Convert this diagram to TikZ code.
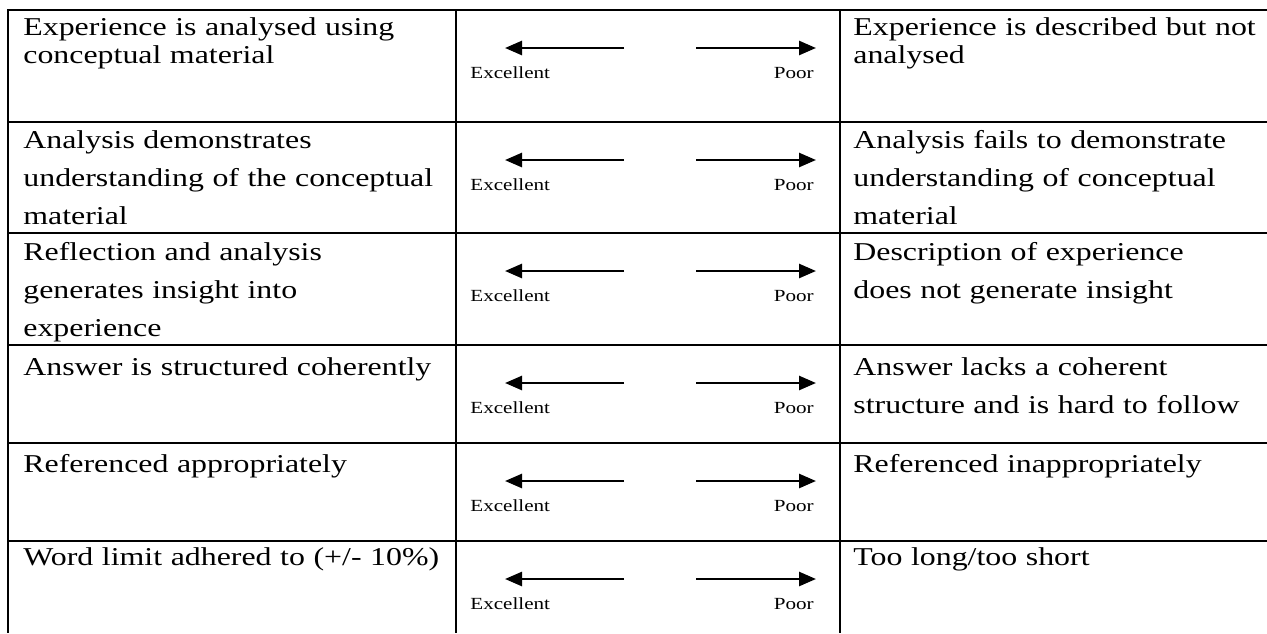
\documentclass[tikz,border=0pt]{standalone}
\usepackage{fontspec}
\setmainfont{Liberation Serif}[FakeStretch=1.24]
\usetikzlibrary{arrows.meta}

\tikzset{
  rule/.style={line width=1.2pt},
  crit/.style={anchor=base west, align=left, text width=220pt, inner sep=0pt, font=\fontsize{12.85pt}{19pt}\selectfont},
  tight/.style={font=\fontsize{12.85pt}{14pt}\selectfont},
  scaleword/.style={inner sep=0pt, font=\fontsize{8.5pt}{10pt}\selectfont},
  pointer/.style={line width=1.3pt, -{Triangle[length=8.5pt,width=7pt]}}
}

\begin{document}
\begin{tikzpicture}[x=0.5pt,y=-0.5pt]
	\useasboundingbox (0,0) rectangle (1267,633);
	% the rules of the table
	\draw[rule] (1267,10) -- (8,10) -- (8,633);
	\draw[rule] (456,10) -- (456,633);
	\draw[rule] (840,10) -- (840,633);
	\draw[rule] (8,122) -- (1267,122);
	\draw[rule] (8,233) -- (1267,233);
	\draw[rule] (8,345) -- (1267,345);
	\draw[rule] (8,443) -- (1267,443);
	\draw[rule] (8,541) -- (1267,541);
	
	% left column
	\node[crit,tight] (good1) at (23,35) {Experience is analysed using\\conceptual material};
	\node[crit] (good2) at (23,148) {Analysis demonstrates\\understanding of the conceptual\\material};
	\node[crit] (good3) at (23,260) {Reflection and analysis\\generates insight into\\experience};
	\node[crit] (good4) at (23,375) {Answer is structured coherently};
	\node[crit] (good5) at (23,472) {Referenced appropriately};
	\node[crit] (good6) at (23,565) {Word limit adhered to (+/- 10\%)};
	
	% right column
	\node[crit,tight] (bad1) at (853,35) {Experience is described but not\\analysed};
	\node[crit] (bad2) at (853,148) {Analysis fails to demonstrate\\understanding of conceptual\\material};
	\node[crit] (bad3) at (853,260) {Description of experience\\does not generate insight};
	\node[crit] (bad4) at (853,375) {Answer lacks a coherent\\structure and is hard to follow};
	\node[crit] (bad5) at (853,472) {Referenced inappropriately};
	\node[crit] (bad6) at (853,565) {Too long/too short};
	
	% middle column: the scale
	\foreach \t [count=\i] in {10,122,233,345,443,541} {
		\coordinate (ea\i) at (624,\t+38);
		\coordinate (pa\i) at (696,\t+38);
		\draw[pointer] (ea\i) -- +(-119,0);
		\draw[pointer] (pa\i) -- +(120,0);
		\node[scaleword,anchor=base west] (exc\i) at (470,\t+68) {Excellent};
		\node[scaleword,anchor=base east] (poor\i) at (814,\t+68) {Poor};
	}
\end{tikzpicture}
\end{document}
